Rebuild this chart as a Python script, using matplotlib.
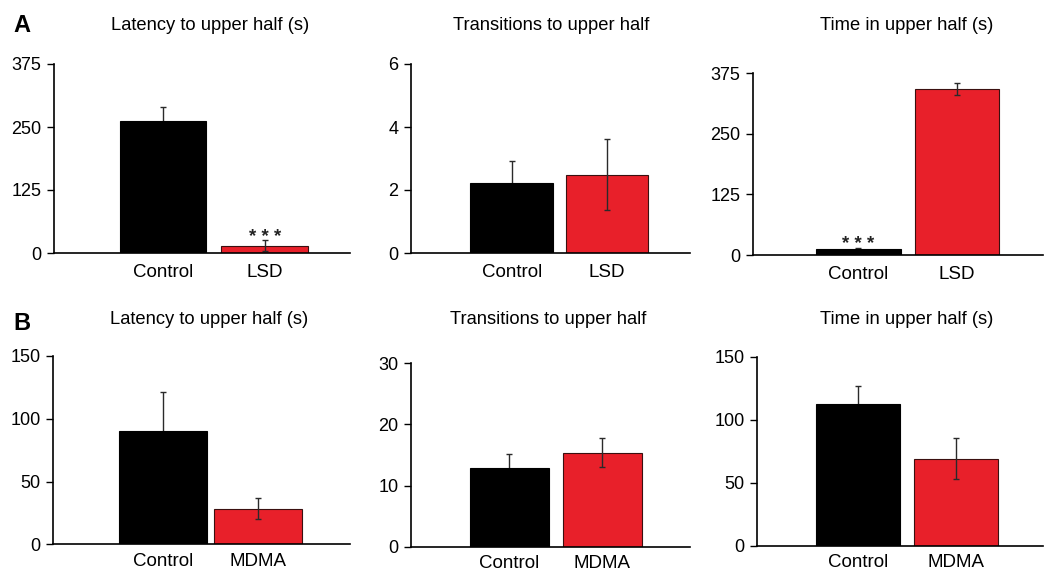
import matplotlib
matplotlib.use("Agg")
import matplotlib.pyplot as plt

plt.rcParams['font.family'] = ['Liberation Sans', 'DejaVu Sans']

# ---- data ----
lsd_groups = ["Control", "LSD"]
mdma_groups = ["Control", "MDMA"]

lsd_latency_mean = [262, 14]
lsd_latency_sem = [28, 11]
lsd_transitions_mean = [2.23, 2.48]
lsd_transitions_sem = [0.70, 1.13]
lsd_time_mean = [12, 342]
lsd_time_sem = [3, 12]

mdma_latency_mean = [90.5, 28.5]
mdma_latency_sem = [31, 8.5]
mdma_transitions_mean = [12.8, 15.4]
mdma_transitions_sem = [2.4, 2.3]
mdma_time_mean = [112.5, 69]
mdma_time_sem = [14.5, 16.3]

titles = ["Latency to upper half (s)", "Transitions to upper half", "Time in upper half (s)"]
lsd_yticks = [[0, 125, 250, 375], [0, 2, 4, 6], [0, 125, 250, 375]]
mdma_yticks = [[0, 50, 100, 150], [0, 10, 20, 30], [0, 50, 100, 150]]
lsd_stars = [["", "* * *"], ["", ""], ["* * *", ""]]
mdma_stars = [["", ""], ["", ""], ["", ""]]
panel_letters = ["A", "B"]

W, H = 1046, 571
fig = plt.figure(figsize=(W / 100, H / 100), dpi=100)

def px_ax(x0, x1, ytop, ybot):
    return fig.add_axes([x0 / W, 1 - ybot / H, (x1 - x0) / W, (ybot - ytop) / H])

# layout: (x0, x1, ytop, ybot, xlim_left, xlim_right, bar width, title x, title y)
layouts = [
    [(54, 350, 64, 253, -1.069, 1.837, 0.85, 210, 25),
     (411, 690, 64, 253, -1.057, 1.871, 0.87, 551, 25),
     (753, 1043, 73.3, 255, -1.067, 1.871, 0.86, 907, 25)],
    [(53, 350, 356, 544.3, -1.158, 1.968, 0.93, 209, 320),
     (411, 690, 363.3, 546.7, -1.061, 1.945, 0.85, 548, 320),
     (757, 1043, 356.7, 546, -1.031, 1.887, 0.85, 907, 320)],
]
xlabel_pad = [8, 6]

rows = [
    (lsd_groups, [(lsd_latency_mean, lsd_latency_sem), (lsd_transitions_mean, lsd_transitions_sem),
                  (lsd_time_mean, lsd_time_sem)], lsd_yticks, lsd_stars),
    (mdma_groups, [(mdma_latency_mean, mdma_latency_sem), (mdma_transitions_mean, mdma_transitions_sem),
                   (mdma_time_mean, mdma_time_sem)], mdma_yticks, mdma_stars),
]

bar_colors = ["#000000", "#E8202A"]
edge_colors = ["#000000", "#3a1010"]
err_z = [1, 3]   # black bar hides the lower whisker, red bar shows it

for r, (groups, series, yticks, stars) in enumerate(rows):
    for c in range(3):
        x0, x1, yt, yb, xl, xr, bw, tx, ty = layouts[r][c]
        ax = px_ax(x0, x1, yt, yb)
        means, sems = series[c]
        pos = list(range(len(groups)))
        ax.bar(pos, means, width=bw, color=bar_colors, edgecolor=edge_colors, linewidth=0.8, zorder=2)
        for i, (p, m, s) in enumerate(zip(pos, means, sems)):
            ax.errorbar([p], [m], yerr=[s], fmt='none', ecolor='#2a2a2a', elinewidth=1.0,
                        capsize=2.5, capthick=1.0, zorder=err_z[i])
        for p, m, s, st in zip(pos, means, sems, stars[c]):
            if st:
                ax.annotate(st, (p, m + s), xytext=(0, -1), textcoords='offset points',
                            ha='center', va='baseline', fontsize=13.5, fontweight='bold', color='#222222')
        ax.set_xlim(xl, xr)
        ax.set_ylim(0, yticks[c][-1])
        ax.set_yticks(yticks[c])
        ax.set_xticks(pos)
        ax.set_xticklabels(groups)
        ax.tick_params(axis='x', length=0, pad=xlabel_pad[r], labelsize=13.5)
        ax.tick_params(axis='y', length=5, width=1, pad=4, labelsize=13, direction='out')
        for s in ['top', 'right']:
            ax.spines[s].set_visible(False)
        for s in ['left', 'bottom']:
            ax.spines[s].set_linewidth(1.2)
        ax.spines['bottom'].set_zorder(4)
        fig.text(tx / W, 1 - ty / H, titles[c], ha='center', va='center', fontsize=13.2)
    fig.text(22 / W, 1 - (25 if r == 0 else 324) / H, panel_letters[r], ha='center', va='center',
             fontsize=17, fontweight='bold')

fig.savefig("out.png", dpi=100)
